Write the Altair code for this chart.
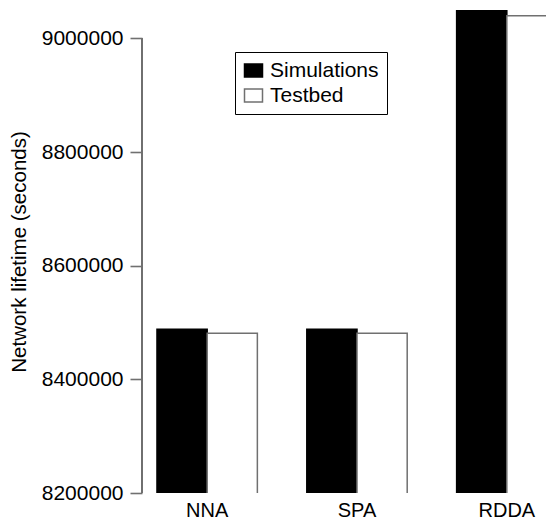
import altair as alt
import pandas as pd

algorithms = ["NNA", "SPA", "RDDA"]
series = ["Simulations", "Testbed"]
simulations = [8488000, 8488000, 9050000]
testbed = [8481000, 8481000, 9040000]
y_ticks = [8200000, 8400000, 8600000, 8800000, 9000000]

rows = []
for i, a in enumerate(algorithms):
    rows.append({"algo": a, "series": "Simulations", "value": simulations[i]})
    rows.append({"algo": a, "series": "Testbed", "value": testbed[i]})
df = pd.DataFrame(rows)

FONT = "Liberation Sans"
GRAY = "#707070"

yscale = alt.Scale(domain=[8200000, 9050000], zero=False, nice=False)

bars = alt.Chart(df).mark_bar(clip=True, strokeWidth=1.5).encode(
    x=alt.X("algo:N", sort=algorithms,
            scale=alt.Scale(range=[0, 430], paddingInner=0.33, paddingOuter=0.1),
            axis=alt.Axis(title=None, labelAngle=0, labelFontSize=20, labelFont=FONT,
                          labelColor="black", domain=False, ticks=False, labelPadding=7)),
    xOffset=alt.XOffset("series:N", sort=series, scale=alt.Scale(paddingInner=0, paddingOuter=0)),
    y=alt.Y("value:Q", scale=yscale,
            axis=alt.Axis(title="Network lifetime (seconds)", values=y_ticks, format="d",
                          labelFontSize=21, labelFont=FONT, labelColor="black",
                          titleFontSize=20.5, titleFont=FONT, titleFontWeight="normal",
                          titleColor="black", titlePadding=12,
                          domain=False, grid=False, ticks=True, tickSize=12,
                          tickColor=GRAY, tickWidth=1.6, tickOpacity=1, labelPadding=7)),
    y2=alt.datum(8190000),
    fill=alt.Fill("series:N", sort=series,
                  scale=alt.Scale(domain=series, range=["#000000", "#ffffff"]),
                  legend=alt.Legend(title=None, orient="none", legendX=93, legendY=42,
                                    strokeColor="black", fillColor="white", padding=8,
                                    labelFontSize=21, labelFont=FONT, labelColor="black",
                                    symbolType="M-1,-0.72L1,-0.72L1,0.72L-1,0.72Z",
                                    symbolSize=324, symbolStrokeColor=GRAY,
                                    symbolStrokeWidth=1.5, labelOffset=6, rowPadding=3)),
    stroke=alt.Stroke("series:N", sort=series,
                      scale=alt.Scale(domain=series, range=["#000000", GRAY]),
                      legend=None),
)

axis_line = alt.Chart(df).mark_rule(color=GRAY, strokeWidth=1.6).encode(
    x=alt.value(0),
    y=alt.datum(8200000),
    y2=alt.datum(9000000),
)

chart = alt.layer(bars, axis_line).properties(
    width=404, height=483,
    autosize=alt.AutoSizeParams(type="none"),
    padding={"left": 134, "top": 2, "right": 0, "bottom": 30},
).configure_view(stroke=None)

chart.save("out.html", embed_options={"renderer": "svg", "actions": False})
